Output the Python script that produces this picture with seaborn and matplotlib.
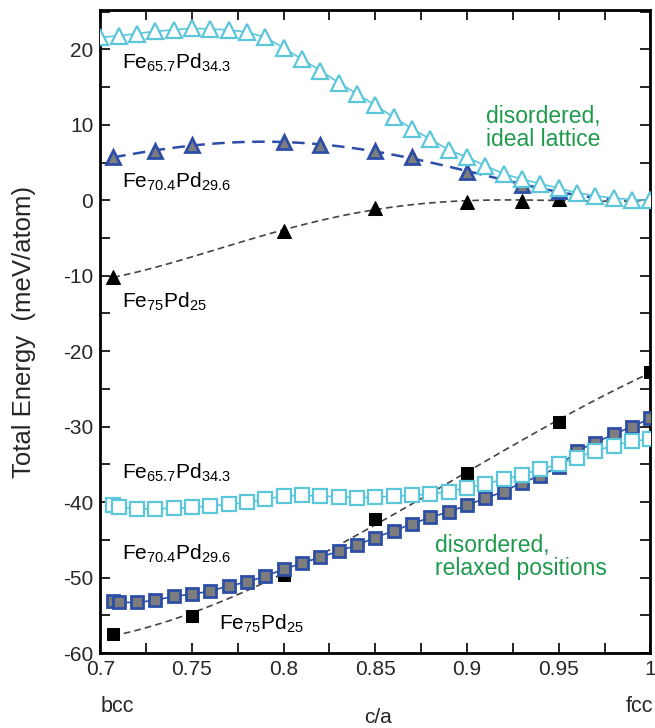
import numpy as np
import pandas as pd
import matplotlib
matplotlib.use("Agg")
import matplotlib.pyplot as plt
import seaborn as sns
from matplotlib.ticker import MultipleLocator

sns.set_theme(style="ticks")
plt.rcParams['font.family'] = ['Liberation Sans', 'DejaVu Sans']
plt.rcParams['mathtext.fontset'] = 'custom'
plt.rcParams['mathtext.rm'] = 'Liberation Sans'
plt.rcParams['mathtext.it'] = 'Liberation Sans'
plt.rcParams['axes.unicode_minus'] = False

# ---- data: ideal lattice (triangles) ----
ca_tri_657 = [0.70, 0.71, 0.72, 0.73, 0.74, 0.75, 0.76, 0.77, 0.78, 0.79, 0.80,
              0.81, 0.82, 0.83, 0.84, 0.85, 0.86, 0.87, 0.88, 0.89, 0.90, 0.91,
              0.92, 0.93, 0.94, 0.95, 0.96, 0.97, 0.98, 0.99, 1.00]
e_tri_657 = [21.6, 21.8, 22.1, 22.4, 22.6, 22.8, 22.7, 22.6, 22.3, 21.6, 20.2,
             18.7, 17.2, 15.6, 14.1, 12.6, 11.0, 9.5, 8.1, 6.7, 5.7, 4.6,
             3.5, 2.8, 2.2, 1.6, 1.0, 0.6, 0.3, 0.1, 0.0]

ca_tri_704 = [0.7071, 0.73, 0.75, 0.80, 0.82, 0.85, 0.87, 0.90, 0.93, 0.95, 1.00]
e_tri_704 = [5.7, 6.6, 7.3, 7.7, 7.3, 6.6, 5.7, 3.7, 2.0, 1.3, 0.0]

ca_tri_75 = [0.7071, 0.80, 0.85, 0.90, 0.93, 0.95, 1.00]
e_tri_75 = [-10.2, -4.0, -1.0, -0.27, -0.05, 0.17, 0.0]

# ---- data: relaxed positions (squares) ----
ca_sq_657 = [0.7071, 0.71, 0.72, 0.73, 0.74, 0.75, 0.76, 0.77, 0.78, 0.79, 0.80,
             0.81, 0.82, 0.83, 0.84, 0.85, 0.86, 0.87, 0.88, 0.89, 0.90, 0.91,
             0.92, 0.93, 0.94, 0.95, 0.96, 0.97, 0.98, 0.99, 1.00]
e_sq_657 = [-40.4, -40.7, -40.9, -40.9, -40.8, -40.7, -40.5, -40.3, -40.05, -39.6, -39.2,
            -39.1, -39.2, -39.3, -39.4, -39.35, -39.2, -39.1, -38.95, -38.6, -38.1, -37.6,
            -37.0, -36.4, -35.6, -35.0, -34.1, -33.2, -32.5, -31.9, -31.7]

ca_sq_704 = [0.7071, 0.71, 0.72, 0.73, 0.74, 0.75, 0.76, 0.77, 0.78, 0.79, 0.80,
             0.81, 0.82, 0.83, 0.84, 0.85, 0.86, 0.87, 0.88, 0.89, 0.90, 0.91,
             0.92, 0.93, 0.94, 0.95, 0.96, 0.97, 0.98, 0.99, 1.00]
e_sq_704 = [-53.1, -53.3, -53.3, -53.0, -52.5, -52.2, -51.8, -51.1, -50.6, -49.8, -48.9,
            -48.1, -47.3, -46.5, -45.7, -44.7, -43.8, -42.9, -42.0, -41.3, -40.4, -39.5,
            -38.6, -37.4, -36.5, -35.3, -33.2, -32.1, -31.0, -30.0, -28.9]

ca_sq_75 = [0.7071, 0.75, 0.80, 0.85, 0.90, 0.95, 1.00]
e_sq_75 = [-57.5, -55.1, -49.6, -42.3, -36.2, -29.4, -22.7]

xtick_vals = [0.7, 0.75, 0.8, 0.85, 0.9, 0.95, 1.0]
xtick_labels = ["0.7", "0.75", "0.8", "0.85", "0.9", "0.95", "1"]

cyan = "#5cc6da"
blue = "#2c4ea6"
gray_fill = "#7d7d7d"
green = "#1f9a4c"

fig, ax = plt.subplots(figsize=(6.55, 7.28), dpi=100)
fig.subplots_adjust(left=0.153, right=0.993, top=0.986, bottom=0.103)

# fitted curves (seaborn polynomial fits)
sns.regplot(x=ca_tri_75, y=e_tri_75, order=4, ci=None, scatter=False, ax=ax,
            line_kws=dict(color="#444444", lw=1.2, ls=(0, (4, 2.5)), zorder=2))
sns.regplot(x=ca_sq_75, y=e_sq_75, order=3, ci=None, scatter=False, ax=ax,
            line_kws=dict(color="#444444", lw=1.2, ls=(0, (4, 2.5)), zorder=2))
sns.regplot(x=ca_tri_704, y=e_tri_704, order=4, ci=None, scatter=False, ax=ax,
            line_kws=dict(color=blue, lw=1.8, ls=(0, (5, 3)), zorder=2))

# markers
sns.lineplot(x=ca_tri_75, y=e_tri_75, ax=ax, lw=0, marker="^", markersize=10,
             color="black", markeredgecolor="black", zorder=4)
sns.lineplot(x=ca_sq_75, y=e_sq_75, ax=ax, lw=0, marker="s", markersize=9,
             color="black", markeredgecolor="black", zorder=4)
sns.lineplot(x=ca_tri_704, y=e_tri_704, ax=ax, lw=0, marker="^", markersize=10,
             color=gray_fill, markeredgecolor=blue, markeredgewidth=2, zorder=4)
sns.lineplot(x=ca_sq_704, y=e_sq_704, ax=ax, lw=1.2, marker="s", markersize=9,
             color=blue, markerfacecolor=gray_fill, markeredgecolor=blue,
             markeredgewidth=2, zorder=4)
sns.lineplot(x=ca_tri_657, y=e_tri_657, ax=ax, lw=1.2, marker="^", markersize=11,
             color=cyan, markerfacecolor="white", markeredgecolor=cyan,
             markeredgewidth=1.6, zorder=5)
sns.lineplot(x=ca_sq_657, y=e_sq_657, ax=ax, lw=1.2, marker="s", markersize=10,
             color=cyan, markerfacecolor="white", markeredgecolor=cyan,
             markeredgewidth=1.6, zorder=5)

ax.set_xlim(0.7, 1.0)
ax.set_ylim(-60, 25.2)
ax.xaxis.set_minor_locator(MultipleLocator(0.025))
ax.yaxis.set_major_locator(MultipleLocator(10))
ax.yaxis.set_minor_locator(MultipleLocator(5))
ax.set_xticks(xtick_vals)
ax.set_xticklabels(xtick_labels)
ax.tick_params(axis="both", which="both", direction="in", top=True, right=True,
               labelsize=15, width=1.2, color="black")
ax.tick_params(axis="both", which="major", length=7, pad=5)
ax.tick_params(axis="both", which="minor", length=7)
for sp in ax.spines.values():
    sp.set_linewidth(2)
    sp.set_color("black")

ax.set_ylabel("Total Energy  (meV/atom)", fontsize=18.5)
ax.yaxis.set_label_coords(-0.117, 0.5)
ax.set_xlabel("c/a", fontsize=15)
ax.xaxis.set_label_coords(0.505, -0.085)

fig.text(117 / 655, 1 - 707 / 728, "bcc", fontsize=15.5, ha="center", va="center")
fig.text(640 / 655, 1 - 707 / 728, "fcc", fontsize=15.5, ha="center", va="center")

lab = dict(fontsize=15, ha="left", va="center", color="black")
ax.text(0.7118, 18.2, r"Fe$_{65.7}$Pd$_{34.3}$", **lab)
ax.text(0.7118, 2.4, r"Fe$_{70.4}$Pd$_{29.6}$", **lab)
ax.text(0.7118, -13.4, r"Fe$_{75}$Pd$_{25}$", **lab)
ax.text(0.7118, -36.1, r"Fe$_{65.7}$Pd$_{34.3}$", **lab)
ax.text(0.7118, -46.9, r"Fe$_{70.4}$Pd$_{29.6}$", **lab)
ax.text(0.7645, -56.2, r"Fe$_{75}$Pd$_{25}$", **lab)

ax.text(0.9105, 9.6, "disordered,\nideal lattice", fontsize=16.5, color=green,
        ha="left", va="center", linespacing=1.0)
ax.text(0.8826, -47.3, "disordered,\nrelaxed positions", fontsize=16.5, color=green,
        ha="left", va="center", linespacing=1.0)

fig.savefig("out.png", dpi=100)
